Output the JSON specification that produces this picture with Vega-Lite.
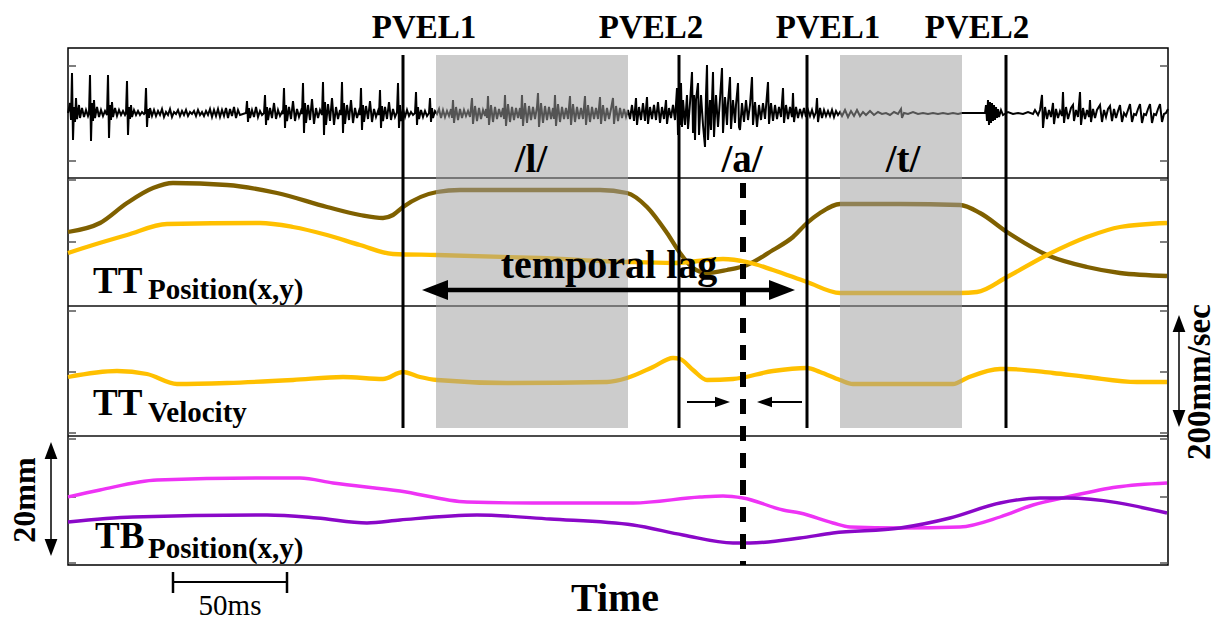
{
"$schema":"https://vega.github.io/schema/vega-lite/v6.json",
"width":1100,"height":517,
"autosize":{"type":"none"},
"padding":{"left":68,"top":48,"right":52,"bottom":55},
"background":"white",
"config":{"view":{"stroke":"#000","strokeWidth":1.5},"font":"Liberation Serif"},
"datasets":{
"wave":[
{"x":0,"y":452},{"x":2,"y":462},{"x":3,"y":445},{"x":4,"y":492},{"x":5,"y":425},{"x":6,"y":458},{"x":7,"y":443},{"x":8,"y":467},{"x":9,"y":446},{"x":11,"y":460},{"x":12,"y":447},{"x":14,"y":457},{"x":16,"y":448},{"x":18,"y":455},{"x":20,"y":449},{"x":21,"y":452},{"x":22,"y":490},{"x":23,"y":424},{"x":24,"y":462},{"x":25,"y":444},{"x":26,"y":465},{"x":27,"y":447},{"x":29,"y":458},{"x":31,"y":448},{"x":33,"y":455},{"x":35,"y":449},{"x":37,"y":454},{"x":39,"y":450},{"x":40,"y":490},{"x":41,"y":427},{"x":42,"y":460},{"x":43,"y":445},{"x":44,"y":463},{"x":45,"y":448},{"x":47,"y":457},{"x":49,"y":449},{"x":51,"y":455},{"x":53,"y":450},{"x":55,"y":454},{"x":57,"y":450},{"x":58,"y":452},{"x":59,"y":484},{"x":60,"y":430},{"x":61,"y":458},{"x":62,"y":446},{"x":63,"y":460},{"x":64,"y":448},{"x":66,"y":455},{"x":68,"y":450},{"x":70,"y":454},{"x":72,"y":450},{"x":74,"y":453},{"x":76,"y":451},{"x":77,"y":452},{"x":78,"y":477},{"x":79,"y":438},{"x":80,"y":456},{"x":81,"y":447},{"x":82,"y":457},
{"x":84,"y":449},{"x":86,"y":455},{"x":88,"y":449},{"x":90,"y":454},{"x":92,"y":450},{"x":94,"y":456},{"x":96,"y":448},{"x":98,"y":453},{"x":100,"y":450},{"x":102,"y":456},{"x":104,"y":448},{"x":106,"y":453},{"x":108,"y":451},{"x":110,"y":455},{"x":112,"y":449},{"x":114,"y":454},{"x":116,"y":450},{"x":118,"y":455},{"x":120,"y":449},{"x":122,"y":453},{"x":124,"y":451},{"x":126,"y":454},{"x":128,"y":449},{"x":130,"y":455},{"x":132,"y":450},{"x":134,"y":453},{"x":136,"y":449},{"x":138,"y":454},{"x":140,"y":450},{"x":142,"y":456},{"x":144,"y":448},{"x":146,"y":455},{"x":148,"y":449},{"x":150,"y":456},{"x":152,"y":448},{"x":154,"y":455},{"x":156,"y":449},{"x":158,"y":457},{"x":160,"y":447},{"x":162,"y":456},{"x":164,"y":449},{"x":166,"y":458},{"x":168,"y":447},{"x":170,"y":455},{"x":172,"y":450},
{"x":178,"y":452},{"x":179,"y":464},{"x":180,"y":443},{"x":181,"y":457},{"x":182,"y":447},{"x":184,"y":455},{"x":186,"y":448},{"x":188,"y":458},{"x":190,"y":448},{"x":192,"y":454},{"x":194,"y":450},{"x":196,"y":452},
{"x":197,"y":470},{"x":198,"y":440},{"x":199,"y":458},{"x":200,"y":445},{"x":202,"y":457},{"x":204,"y":447},{"x":206,"y":462},{"x":208,"y":446},{"x":210,"y":455},{"x":212,"y":449},{"x":214,"y":453},{"x":215,"y":451},
{"x":216,"y":477},{"x":217,"y":437},{"x":218,"y":460},{"x":219,"y":444},{"x":221,"y":458},{"x":223,"y":446},{"x":225,"y":464},{"x":227,"y":444},{"x":229,"y":456},{"x":231,"y":448},{"x":233,"y":454},{"x":234,"y":451},
{"x":235,"y":482},{"x":236,"y":432},{"x":237,"y":462},{"x":238,"y":442},{"x":240,"y":460},{"x":242,"y":445},{"x":244,"y":466},{"x":246,"y":441},{"x":248,"y":457},{"x":250,"y":447},{"x":252,"y":455},{"x":254,"y":450},
{"x":255,"y":483},{"x":256,"y":430},{"x":257,"y":463},{"x":258,"y":440},{"x":260,"y":461},{"x":262,"y":444},{"x":264,"y":467},{"x":266,"y":440},{"x":268,"y":458},{"x":270,"y":446},{"x":272,"y":455},{"x":273,"y":450},
{"x":274,"y":483},{"x":275,"y":432},{"x":276,"y":462},{"x":277,"y":441},{"x":279,"y":460},{"x":281,"y":445},{"x":283,"y":465},{"x":285,"y":442},{"x":287,"y":457},{"x":289,"y":447},{"x":291,"y":454},{"x":292,"y":450},
{"x":293,"y":477},{"x":294,"y":435},{"x":295,"y":460},{"x":296,"y":443},{"x":298,"y":459},{"x":300,"y":446},{"x":302,"y":464},{"x":304,"y":443},{"x":306,"y":456},{"x":308,"y":448},{"x":310,"y":454},{"x":311,"y":450},
{"x":312,"y":475},{"x":313,"y":437},{"x":314,"y":459},{"x":315,"y":444},{"x":317,"y":458},{"x":319,"y":446},{"x":321,"y":463},{"x":323,"y":445},{"x":325,"y":456},{"x":327,"y":448},{"x":329,"y":453},
{"x":330,"y":482},{"x":331,"y":437},{"x":332,"y":460},{"x":333,"y":444},{"x":335,"y":456},{"x":337,"y":448},{"x":339,"y":455},{"x":341,"y":449},{"x":343,"y":453},{"x":345,"y":450},
{"x":347,"y":452},{"x":348,"y":473},{"x":349,"y":440},{"x":350,"y":458},{"x":351,"y":446},{"x":353,"y":455},{"x":355,"y":448},{"x":357,"y":454},{"x":359,"y":449},{"x":361,"y":452},{"x":362,"y":467},{"x":363,"y":443},{"x":364,"y":457},{"x":365,"y":447},{"x":367,"y":454},
{"x":369,"y":451},{"x":371,"y":456},{"x":373,"y":447},{"x":375,"y":455},{"x":377,"y":448},{"x":379,"y":454},{"x":381,"y":449},
{"x":383,"y":456},{"x":384,"y":447},{"x":385,"y":465},{"x":386,"y":442},{"x":388,"y":458},{"x":390,"y":445},{"x":392,"y":456},{"x":394,"y":447},{"x":396,"y":455},{"x":398,"y":449},{"x":400,"y":454},{"x":402,"y":448},
{"x":403,"y":457},{"x":404,"y":467},{"x":405,"y":441},{"x":407,"y":459},{"x":409,"y":444},{"x":411,"y":457},{"x":413,"y":446},{"x":415,"y":455},{"x":417,"y":449},{"x":418,"y":456},
{"x":419,"y":447},{"x":420,"y":469},{"x":421,"y":440},{"x":423,"y":460},{"x":425,"y":443},{"x":427,"y":458},{"x":429,"y":446},{"x":431,"y":456},{"x":433,"y":448},{"x":435,"y":457},
{"x":436,"y":446},{"x":437,"y":470},{"x":438,"y":439},{"x":440,"y":461},{"x":442,"y":443},{"x":444,"y":458},{"x":446,"y":445},{"x":448,"y":457},{"x":450,"y":447},{"x":452,"y":457},
{"x":453,"y":446},{"x":454,"y":470},{"x":455,"y":439},{"x":457,"y":462},{"x":459,"y":442},{"x":461,"y":459},{"x":463,"y":445},{"x":465,"y":458},{"x":467,"y":446},{"x":469,"y":458},
{"x":470,"y":472},{"x":471,"y":438},{"x":473,"y":462},{"x":475,"y":442},{"x":477,"y":459},{"x":479,"y":445},{"x":481,"y":458},{"x":483,"y":446},{"x":485,"y":457},
{"x":486,"y":446},{"x":487,"y":470},{"x":488,"y":439},{"x":490,"y":461},{"x":492,"y":443},{"x":494,"y":458},{"x":496,"y":446},{"x":498,"y":457},{"x":500,"y":446},
{"x":502,"y":469},{"x":503,"y":440},{"x":505,"y":461},{"x":507,"y":443},{"x":509,"y":458},{"x":511,"y":446},{"x":513,"y":457},{"x":515,"y":446},
{"x":517,"y":469},{"x":518,"y":440},{"x":520,"y":460},{"x":522,"y":443},{"x":524,"y":458},{"x":526,"y":446},{"x":528,"y":457},{"x":530,"y":446},
{"x":532,"y":468},{"x":533,"y":441},{"x":535,"y":460},{"x":537,"y":444},{"x":539,"y":457},{"x":541,"y":446},{"x":543,"y":456},
{"x":545,"y":467},{"x":546,"y":441},{"x":548,"y":459},{"x":550,"y":444},{"x":552,"y":457},{"x":554,"y":447},{"x":556,"y":456},{"x":558,"y":448},{"x":560,"y":455},
{"x":562,"y":446},{"x":564,"y":460},{"x":566,"y":444},{"x":568,"y":467},{"x":569,"y":440},{"x":571,"y":458},{"x":573,"y":445},{"x":575,"y":462},{"x":577,"y":444},{"x":579,"y":468},{"x":580,"y":441},{"x":582,"y":458},{"x":584,"y":446},{"x":586,"y":460},{"x":588,"y":445},{"x":590,"y":463},{"x":592,"y":442},{"x":594,"y":458},{"x":596,"y":446},{"x":598,"y":465},{"x":599,"y":441},{"x":601,"y":457},{"x":603,"y":447},{"x":605,"y":460},{"x":607,"y":445},{"x":609,"y":477},{"x":610,"y":430},{"x":611,"y":460},{"x":612,"y":440},
{"x":613,"y":482},{"x":614,"y":438},{"x":615,"y":465},{"x":617,"y":440},{"x":619,"y":470},{"x":620,"y":436},{"x":622,"y":462},{"x":624,"y":493},{"x":625,"y":432},{"x":626,"y":470},{"x":627,"y":425},{"x":628,"y":465},{"x":630,"y":482},{"x":631,"y":430},{"x":633,"y":470},{"x":635,"y":440},{"x":637,"y":418},{"x":638,"y":470},{"x":639,"y":500},{"x":640,"y":425},{"x":642,"y":465},{"x":643,"y":435},{"x":645,"y":493},{"x":646,"y":428},{"x":648,"y":470},{"x":650,"y":438},{"x":652,"y":466},{"x":654,"y":497},{"x":655,"y":432},{"x":657,"y":468},{"x":659,"y":440},{"x":660,"y":462},{"x":662,"y":488},{"x":663,"y":436},{"x":665,"y":465},{"x":667,"y":442},{"x":668,"y":460},{"x":670,"y":482},{"x":671,"y":438},{"x":672,"y":435},{"x":674,"y":462},{"x":676,"y":443},{"x":678,"y":465},{"x":680,"y":445},{"x":682,"y":460},{"x":684,"y":488},{"x":685,"y":440},{"x":687,"y":463},{"x":689,"y":438},{"x":691,"y":460},{"x":693,"y":445},{"x":695,"y":462},{"x":697,"y":446},{"x":698,"y":458},{"x":700,"y":483},{"x":701,"y":441},{"x":703,"y":462},{"x":705,"y":444},{"x":707,"y":460},{"x":709,"y":446},{"x":711,"y":458},{"x":713,"y":448},{"x":715,"y":477},{"x":716,"y":442},{"x":718,"y":460},{"x":720,"y":446},{"x":722,"y":458},{"x":724,"y":448},{"x":725,"y":472},{"x":726,"y":443},{"x":728,"y":458},{"x":730,"y":447},{"x":732,"y":456},{"x":734,"y":449},{"x":736,"y":457},{"x":738,"y":448},{"x":740,"y":455},
{"x":742,"y":449},{"x":744,"y":455},{"x":746,"y":448},{"x":748,"y":453},{"x":749,"y":467},{"x":750,"y":443},{"x":752,"y":457},{"x":754,"y":447},{"x":756,"y":455},{"x":758,"y":449},{"x":760,"y":454},{"x":762,"y":449},{"x":764,"y":455},{"x":766,"y":448},{"x":768,"y":454},{"x":770,"y":450},{"x":772,"y":453},
{"x":774,"y":449},{"x":777,"y":455},{"x":780,"y":448},{"x":783,"y":454},{"x":786,"y":449},{"x":789,"y":455},{"x":792,"y":449},{"x":795,"y":453},{"x":798,"y":450},{"x":802,"y":454},{"x":806,"y":450},{"x":810,"y":453},{"x":814,"y":451},{"x":818,"y":452},{"x":822,"y":450},{"x":826,"y":453},{"x":830,"y":451},{"x":833,"y":456},{"x":834,"y":447},{"x":836,"y":452},{"x":840,"y":451},{"x":845,"y":453},{"x":850,"y":451},{"x":855,"y":452},{"x":860,"y":451},{"x":865,"y":452},{"x":870,"y":451},{"x":875,"y":452},{"x":880,"y":451},{"x":885,"y":452},{"x":890,"y":451},{"x":894,"y":452},
{"x":900,"y":452},{"x":915,"y":452},
{"x":917,"y":452},{"x":918,"y":460},{"x":919,"y":444},{"x":920,"y":465},{"x":921,"y":440},{"x":922,"y":463},{"x":923,"y":442},{"x":924,"y":462},{"x":925,"y":444},{"x":926,"y":460},{"x":927,"y":445},{"x":928,"y":458},{"x":929,"y":447},{"x":930,"y":456},{"x":931,"y":448},{"x":933,"y":455},{"x":935,"y":450},
{"x":940,"y":453},{"x":945,"y":451},{"x":950,"y":452},{"x":955,"y":451},{"x":960,"y":453},{"x":965,"y":451},{"x":967,"y":455},
{"x":970,"y":450},{"x":972,"y":455},{"x":974,"y":470},{"x":975,"y":437},{"x":977,"y":458},{"x":979,"y":446},{"x":981,"y":455},{"x":983,"y":448},{"x":985,"y":462},{"x":986,"y":441},{"x":988,"y":456},{"x":990,"y":447},{"x":992,"y":454},{"x":994,"y":449},{"x":995,"y":473},{"x":996,"y":442},{"x":998,"y":458},{"x":1000,"y":446},{"x":1003,"y":457},{"x":1005,"y":460},{"x":1006,"y":444},{"x":1008,"y":455},{"x":1010,"y":448},{"x":1012,"y":473},{"x":1013,"y":440},{"x":1015,"y":457},{"x":1017,"y":446},{"x":1019,"y":455},{"x":1021,"y":448},{"x":1022,"y":465},{"x":1023,"y":443},{"x":1025,"y":456},{"x":1027,"y":447},{"x":1029,"y":455},{"x":1032,"y":460},{"x":1034,"y":443},{"x":1036,"y":455},{"x":1038,"y":448},{"x":1040,"y":456},{"x":1042,"y":459},{"x":1044,"y":444},{"x":1046,"y":456},{"x":1048,"y":447},{"x":1050,"y":454},{"x":1052,"y":460},{"x":1054,"y":443},{"x":1056,"y":452},{"x":1058,"y":449},{"x":1060,"y":455},{"x":1062,"y":461},{"x":1064,"y":443},{"x":1066,"y":451},{"x":1068,"y":450},{"x":1070,"y":456},{"x":1072,"y":461},{"x":1074,"y":442},{"x":1076,"y":451},{"x":1078,"y":450},{"x":1080,"y":456},{"x":1082,"y":461},{"x":1084,"y":442},{"x":1086,"y":451},{"x":1088,"y":450},{"x":1090,"y":456},{"x":1092,"y":461},{"x":1094,"y":443},{"x":1096,"y":451},{"x":1098,"y":452},{"x":1100,"y":456}
],
"curves":[
{"s":"TTpos_a","x":0,"y":333},{"s":"TTpos_a","x":32,"y":342},{"s":"TTpos_a","x":59,"y":362},{"s":"TTpos_a","x":85,"y":377},{"s":"TTpos_a","x":105,"y":382},{"s":"TTpos_a","x":159,"y":380},{"s":"TTpos_a","x":209,"y":372},{"s":"TTpos_a","x":259,"y":358},{"s":"TTpos_a","x":292,"y":350},{"s":"TTpos_a","x":315,"y":347},{"s":"TTpos_a","x":325,"y":350},{"s":"TTpos_a","x":335,"y":358},{"s":"TTpos_a","x":369,"y":373},{"s":"TTpos_a","x":392,"y":375},{"s":"TTpos_a","x":472,"y":375},{"s":"TTpos_a","x":532,"y":375},{"s":"TTpos_a","x":559,"y":372},{"s":"TTpos_a","x":579,"y":358},{"s":"TTpos_a","x":599,"y":332},{"s":"TTpos_a","x":612,"y":312},{"s":"TTpos_a","x":625,"y":297},{"s":"TTpos_a","x":639,"y":292},{"s":"TTpos_a","x":659,"y":295},{"s":"TTpos_a","x":679,"y":300},{"s":"TTpos_a","x":705,"y":315},{"s":"TTpos_a","x":725,"y":328},{"s":"TTpos_a","x":739,"y":342},{"s":"TTpos_a","x":752,"y":352},{"s":"TTpos_a","x":772,"y":361},{"s":"TTpos_a","x":832,"y":361},{"s":"TTpos_a","x":892,"y":360},{"s":"TTpos_a","x":912,"y":352},{"s":"TTpos_a","x":939,"y":333},{"s":"TTpos_a","x":979,"y":310},{"s":"TTpos_a","x":1019,"y":298},{"s":"TTpos_a","x":1052,"y":292},{"s":"TTpos_a","x":1099,"y":289},
{"s":"TTpos_b","x":0,"y":312},{"s":"TTpos_b","x":25,"y":320},{"s":"TTpos_b","x":59,"y":330},{"s":"TTpos_b","x":99,"y":341},{"s":"TTpos_b","x":192,"y":342},{"s":"TTpos_b","x":225,"y":338},{"s":"TTpos_b","x":259,"y":330},{"s":"TTpos_b","x":292,"y":320},{"s":"TTpos_b","x":325,"y":311},{"s":"TTpos_b","x":369,"y":310},{"s":"TTpos_b","x":472,"y":307},{"s":"TTpos_b","x":559,"y":303},{"s":"TTpos_b","x":605,"y":302},{"s":"TTpos_b","x":655,"y":306},{"s":"TTpos_b","x":679,"y":303},{"s":"TTpos_b","x":705,"y":295},{"s":"TTpos_b","x":739,"y":283},{"s":"TTpos_b","x":772,"y":272},{"s":"TTpos_b","x":832,"y":272},{"s":"TTpos_b","x":892,"y":272},{"s":"TTpos_b","x":909,"y":273},{"s":"TTpos_b","x":939,"y":288},{"s":"TTpos_b","x":979,"y":310},{"s":"TTpos_b","x":1019,"y":328},{"s":"TTpos_b","x":1052,"y":338},{"s":"TTpos_b","x":1099,"y":342},
{"s":"TTvel","x":0,"y":188},{"s":"TTvel","x":49,"y":194},{"s":"TTvel","x":79,"y":191},{"s":"TTvel","x":109,"y":181},{"s":"TTvel","x":159,"y":182},{"s":"TTvel","x":225,"y":185},{"s":"TTvel","x":275,"y":188},{"s":"TTvel","x":315,"y":186},{"s":"TTvel","x":335,"y":193},{"s":"TTvel","x":352,"y":188},{"s":"TTvel","x":369,"y":185},{"s":"TTvel","x":439,"y":182},{"s":"TTvel","x":539,"y":183},{"s":"TTvel","x":559,"y":187},{"s":"TTvel","x":585,"y":198},{"s":"TTvel","x":605,"y":207},{"s":"TTvel","x":612,"y":206},{"s":"TTvel","x":625,"y":195},{"s":"TTvel","x":639,"y":185},{"s":"TTvel","x":665,"y":186},{"s":"TTvel","x":705,"y":194},{"s":"TTvel","x":739,"y":197},{"s":"TTvel","x":752,"y":193},{"s":"TTvel","x":772,"y":185},{"s":"TTvel","x":785,"y":181},{"s":"TTvel","x":885,"y":181},{"s":"TTvel","x":899,"y":187},{"s":"TTvel","x":932,"y":196},{"s":"TTvel","x":939,"y":196},{"s":"TTvel","x":985,"y":192},{"s":"TTvel","x":1019,"y":188},{"s":"TTvel","x":1069,"y":183},{"s":"TTvel","x":1099,"y":183}
],
"tb":[
{"s":"TBpos_a","x":0,"y":68},{"s":"TBpos_a","x":32,"y":75},{"s":"TBpos_a","x":89,"y":85},{"s":"TBpos_a","x":199,"y":87},{"s":"TBpos_a","x":232,"y":87},{"s":"TBpos_a","x":265,"y":82},{"s":"TBpos_a","x":332,"y":74},{"s":"TBpos_a","x":399,"y":63},{"s":"TBpos_a","x":465,"y":62},{"s":"TBpos_a","x":565,"y":62},{"s":"TBpos_a","x":632,"y":68},{"s":"TBpos_a","x":655,"y":69},{"s":"TBpos_a","x":675,"y":67},{"s":"TBpos_a","x":715,"y":55},{"s":"TBpos_a","x":732,"y":52},{"s":"TBpos_a","x":765,"y":42},{"s":"TBpos_a","x":782,"y":38},{"s":"TBpos_a","x":832,"y":37},{"s":"TBpos_a","x":892,"y":38},{"s":"TBpos_a","x":932,"y":48},{"s":"TBpos_a","x":965,"y":60},{"s":"TBpos_a","x":999,"y":68},{"s":"TBpos_a","x":1049,"y":78},{"s":"TBpos_a","x":1099,"y":82},
{"s":"TBpos_b","x":0,"y":43},{"s":"TBpos_b","x":65,"y":48},{"s":"TBpos_b","x":199,"y":50},{"s":"TBpos_b","x":249,"y":47},{"s":"TBpos_b","x":299,"y":42},{"s":"TBpos_b","x":332,"y":45},{"s":"TBpos_b","x":409,"y":50},{"s":"TBpos_b","x":482,"y":46},{"s":"TBpos_b","x":565,"y":40},{"s":"TBpos_b","x":615,"y":30},{"s":"TBpos_b","x":665,"y":22},{"s":"TBpos_b","x":682,"y":22},{"s":"TBpos_b","x":732,"y":27},{"s":"TBpos_b","x":765,"y":32},{"s":"TBpos_b","x":832,"y":37},{"s":"TBpos_b","x":882,"y":47},{"s":"TBpos_b","x":932,"y":62},{"s":"TBpos_b","x":972,"y":67},{"s":"TBpos_b","x":999,"y":67},{"s":"TBpos_b","x":1099,"y":52}
]
},
"encoding":{
"x":{"field":"x","type":"quantitative","scale":{"domain":[0,1100],"nice":false,"zero":false},"axis":null},
"y":{"field":"y","type":"quantitative","scale":{"domain":[0,517],"nice":false,"zero":false},"axis":null}
},
"layer":[
{"data":{"values":[{"x":0,"x2":1100,"y":387},{"x":0,"x2":1100,"y":259},{"x":0,"x2":1100,"y":129}]},
 "mark":{"type":"rule","color":"#111","strokeWidth":1.3},"encoding":{"x2":{"field":"x2"}}},
{"data":{"values":[{"x":0,"x2":8,"y":499},{"x":0,"x2":8,"y":404},{"x":0,"x2":8,"y":385},{"x":0,"x2":8,"y":323},{"x":0,"x2":8,"y":254},{"x":0,"x2":8,"y":193},{"x":0,"x2":8,"y":132},{"x":0,"x2":8,"y":126},{"x":0,"x2":8,"y":68},{"x":0,"x2":8,"y":2},
{"x":1092,"x2":1100,"y":499},{"x":1092,"x2":1100,"y":404},{"x":1092,"x2":1100,"y":385},{"x":1092,"x2":1100,"y":323},{"x":1092,"x2":1100,"y":254},{"x":1092,"x2":1100,"y":193},{"x":1092,"x2":1100,"y":132},{"x":1092,"x2":1100,"y":126},{"x":1092,"x2":1100,"y":68},{"x":1092,"x2":1100,"y":2}]},
 "mark":{"type":"rule","color":"#555","strokeWidth":1.5},"encoding":{"x2":{"field":"x2"}}},
{"data":{"name":"curves"},"mark":{"type":"line","interpolate":"monotone","strokeWidth":4.3},
 "encoding":{"color":{"field":"s","type":"nominal","legend":null,"scale":{"domain":["TTpos_a","TTpos_b","TTvel","TBpos_a","TBpos_b"],"range":["#7f6000","#ffc000","#ffc000","#ee33f5","#8a08c8"]}}}},
{"data":{"name":"tb"},"mark":{"type":"line","interpolate":"monotone","strokeWidth":3.4},
 "encoding":{"color":{"field":"s","type":"nominal","legend":null}}},
{"data":{"name":"wave"},"mark":{"type":"line","color":"#000","strokeWidth":2}},
{"data":{"values":[{"x":368,"x2":560,"y":137,"y2":510},{"x":772,"x2":894,"y":137,"y2":510}]},
 "mark":{"type":"rect","color":"#9f9f9f","opacity":0.53},"encoding":{"x2":{"field":"x2"},"y2":{"field":"y2"}}},
{"data":{"values":[{"x":335,"y":137,"y2":510},{"x":611,"y":137,"y2":510},{"x":739,"y":137,"y2":510},{"x":938,"y":137,"y2":510}]},
 "mark":{"type":"rule","color":"#000","strokeWidth":3},"encoding":{"y2":{"field":"y2"}}},
{"data":{"values":[{"x":675,"y":382,"y2":0}]},
 "mark":{"type":"rule","color":"#000","strokeWidth":6,"strokeDash":[15,12]},"encoding":{"y2":{"field":"y2"}}},
{"data":{"values":[{"x":362,"x2":718,"y":275}]},
 "mark":{"type":"rule","color":"#000","strokeWidth":4.5},"encoding":{"x2":{"field":"x2"}}},
{"data":{"values":[{"x":619,"x2":655,"y":163},{"x":696,"x2":734,"y":163},{"x":105,"x2":219,"y":-17}]},
 "mark":{"type":"rule","color":"#000","strokeWidth":2.2},"encoding":{"x2":{"field":"x2"}}},
{"data":{"values":[{"x":105,"y":-7,"y2":-28},{"x":219,"y":-7,"y2":-28}]},
 "mark":{"type":"rule","color":"#000","strokeWidth":2.5},"encoding":{"y2":{"field":"y2"}}},
{"data":{"values":[{"x":-17,"y":115,"y2":17},{"x":1111,"y":243,"y2":145}]},
 "mark":{"type":"rule","color":"#000","strokeWidth":1.5},"encoding":{"y2":{"field":"y2"}}},
{"data":{"values":[{"x":727,"y":275}]},"mark":{"type":"point","filled":true,"opacity":1,"strokeWidth":0,"color":"#000","shape":"M0,0L-2,-0.77L-2,0.77Z","size":676,"angle":0}},
{"data":{"values":[{"x":354,"y":275}]},"mark":{"type":"point","filled":true,"opacity":1,"strokeWidth":0,"color":"#000","shape":"M0,0L-2,-0.77L-2,0.77Z","size":676,"angle":180}},
{"data":{"values":[{"x":662,"y":163}]},"mark":{"type":"point","filled":true,"opacity":1,"strokeWidth":0,"color":"#000","shape":"M0,0L-2,-0.7L-2,0.7Z","size":225,"angle":0}},
{"data":{"values":[{"x":689,"y":163}]},"mark":{"type":"point","filled":true,"opacity":1,"strokeWidth":0,"color":"#000","shape":"M0,0L-2,-0.7L-2,0.7Z","size":225,"angle":180}},
{"data":{"values":[{"x":-17,"y":123},{"x":1111,"y":250}]},"mark":{"type":"point","filled":true,"opacity":1,"strokeWidth":0,"color":"#000","shape":"M0,0L-2,-0.75L-2,0.75Z","size":289,"angle":270}},
{"data":{"values":[{"x":-17,"y":9},{"x":1111,"y":138}]},"mark":{"type":"point","filled":true,"opacity":1,"strokeWidth":0,"color":"#000","shape":"M0,0L-2,-0.75L-2,0.75Z","size":289,"angle":90}},
{"data":{"values":[{"x":356,"y":537,"t":"PVEL1"},{"x":583,"y":537,"t":"PVEL2"},{"x":760,"y":537,"t":"PVEL1"},{"x":909,"y":537,"t":"PVEL2"}]},
 "mark":{"type":"text","font":"Liberation Serif, DejaVu Serif, serif","fontWeight":"bold","fontSize":33,"align":"center","baseline":"middle","color":"#000"},"encoding":{"text":{"field":"t"}}},
{"data":{"values":[{"x":463,"y":393,"t":"/l/"},{"x":674,"y":393,"t":"/a/"},{"x":835,"y":393,"t":"/t/"}]},
 "mark":{"type":"text","font":"Liberation Serif, DejaVu Serif, serif","fontWeight":"bold","fontSize":39,"align":"center","baseline":"alphabetic","color":"#000"},"encoding":{"text":{"field":"t"}}},
{"data":{"values":[{"x":25,"y":272,"t":"TT"},{"x":25,"y":150,"t":"TT"},{"x":27,"y":17,"t":"TB"}]},
 "mark":{"type":"text","font":"Liberation Serif, DejaVu Serif, serif","fontWeight":"bold","fontSize":37,"align":"left","baseline":"alphabetic","color":"#000"},"encoding":{"text":{"field":"t"}}},
{"data":{"values":[{"x":80,"y":266,"t":"Position(x,y)"},{"x":80,"y":143,"t":"Velocity"},{"x":80,"y":7,"t":"Position(x,y)"}]},
 "mark":{"type":"text","font":"Liberation Serif, DejaVu Serif, serif","fontWeight":"bold","fontSize":29,"align":"left","baseline":"alphabetic","color":"#000"},"encoding":{"text":{"field":"t"}}},
{"data":{"values":[{"x":541,"y":287,"t":"temporal lag"},{"x":547,"y":-46,"t":"Time"}]},
 "mark":{"type":"text","font":"Liberation Serif, DejaVu Serif, serif","fontWeight":"bold","fontSize":40,"align":"center","baseline":"alphabetic","color":"#000"},"encoding":{"text":{"field":"t"}}},
{"data":{"values":[{"x":162,"y":-50,"t":"50ms"}]},
 "mark":{"type":"text","font":"Liberation Serif, DejaVu Serif, serif","fontWeight":"normal","fontSize":29,"align":"center","baseline":"alphabetic","color":"#000"},"encoding":{"text":{"field":"t"}}},
{"data":{"values":[{"x":-43,"y":65,"t":"20mm"}]},
 "mark":{"type":"text","font":"Liberation Serif, DejaVu Serif, serif","fontWeight":"bold","fontSize":32,"align":"center","baseline":"middle","angle":270,"color":"#000"},"encoding":{"text":{"field":"t"}}},
{"data":{"values":[{"x":1132,"y":183,"t":"200mm/sec"}]},
 "mark":{"type":"text","font":"Liberation Serif, DejaVu Serif, serif","fontWeight":"bold","fontSize":33,"align":"center","baseline":"middle","angle":270,"color":"#000"},"encoding":{"text":{"field":"t"}}}
]
}
